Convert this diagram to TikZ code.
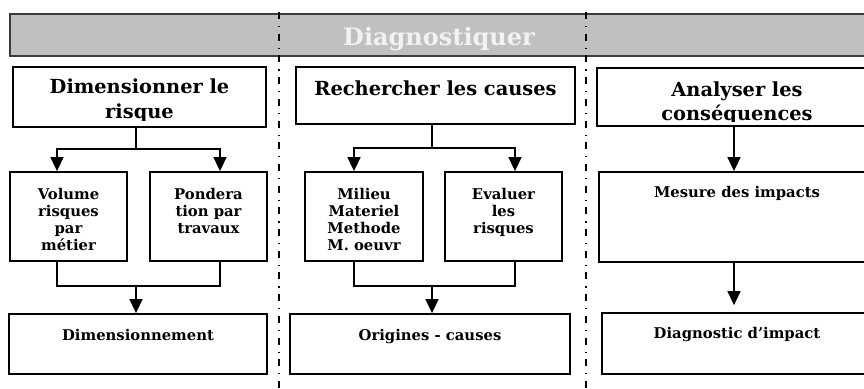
\documentclass[tikz,border=0pt]{standalone}
\usepackage{fontspec}
\setmainfont{DejaVu Serif}
\usetikzlibrary{arrows.meta}
\definecolor{bannerfill}{RGB}{192,192,192}
\definecolor{bannerline}{RGB}{60,60,60}
\definecolor{bannertext}{RGB}{242,242,242}
\begin{document}
\begin{tikzpicture}[x=1pt,y=-1pt,
  box/.style={draw=black,line width=1.8pt,fill=white,inner sep=0pt},
  conn/.style={line width=1.6pt},
  arr/.style={conn,-{Triangle[length=14pt,width=13pt]}},
  ttl/.style={font=\bfseries\fontsize{19.4}{24.5}\selectfont,align=center,inner sep=0pt,anchor=base},
  sml/.style={font=\bfseries\fontsize{14.8}{17.3}\selectfont,align=center,inner sep=0pt,anchor=base},
  sepline/.style={line width=1.3pt,dash pattern=on 7pt off 7pt on 1.2pt off 6.5pt}]
\useasboundingbox (0,0) rectangle (864,388);
\clip (0,0) rectangle (864,388);
\fill[white] (0,0) rectangle (864,388);
% banner
\node[draw=bannerline,line width=1.8pt,fill=bannerfill,minimum width=870,minimum height=42,inner sep=0pt] (banner) at (444.75,35) {};
\node[font=\bfseries\fontsize{24}{28}\selectfont,text=bannertext,inner sep=0pt,anchor=base] (bannertxt) at (439,45) {Diagnostiquer};
% separators
\coordinate (s1top) at (279,12);
\coordinate (s1bot) at (279,390);
\coordinate (s2top) at (586,12);
\coordinate (s2bot) at (586,390);
\draw[sepline] (s1top) -- (s1bot);
\draw[sepline] (s2top) -- (s2bot);
% top boxes
\node[box,minimum width=253,minimum height=60] (A) at (139.5,97) {};
\node[box,minimum width=279,minimum height=57] (B) at (435.5,95.5) {};
\node[box,minimum width=283,minimum height=58] (C) at (738.5,97) {};
\begin{scope}
\clip (13,67) rectangle (266,120.5);
\node[ttl] (Atxt) at (139.5,118) {Dimensionner le\\risque};
\end{scope}
\node[ttl] (Btxt) at (435.5,95) {Rechercher les causes};
\begin{scope}
\clip (597,68) rectangle (880,121.5);
\node[ttl] (Ctxt) at (737,120.5) {Analyser les\\conséquences};
\end{scope}
% second row
\node[box,minimum width=117,minimum height=89] (A1) at (68.5,216.5) {};
\node[box,minimum width=117,minimum height=89] (A2) at (208.5,216.5) {};
\node[box,minimum width=118,minimum height=89] (B1) at (364,216.5) {};
\node[box,minimum width=117,minimum height=89] (B2) at (503.5,216.5) {};
\node[box,minimum width=281,minimum height=90] (C2) at (739.5,217) {};
\node[sml] (A1txt) at (68.5,250.9) {Volume\\risques\\par\\métier};
\node[sml] (A2txt) at (208.5,233.6) {Pondera\\tion par\\travaux};
\node[sml] (B1txt) at (364,250.9) {Milieu\\Materiel\\Methode\\M. oeuvr};
\node[sml] (B2txt) at (503.5,233.6) {Evaluer\\les\\risques};
\node[sml] (C2txt) at (737,197) {Mesure des impacts};
% third row
\node[box,minimum width=258,minimum height=60] (A3) at (138,344) {};
\node[box,minimum width=280,minimum height=60] (B3) at (430,344) {};
\node[box,minimum width=278,minimum height=61] (C3) at (741,343.5) {};
\node[sml] (A3txt) at (138,340) {Dimensionnement};
\node[sml] (B3txt) at (430,340) {Origines - causes};
\node[sml] (C3txt) at (737,338) {Diagnostic d’impact};
% connectors column A
\coordinate (jA) at (136,149);
\coordinate (jA2) at (136,286);
\draw[conn] (A.south -| jA) -- (jA);
\draw[arr] (jA) -| ([xshift=-11.5pt]A1.north);
\draw[arr] (jA) -| ([xshift=11.5pt]A2.north);
\draw[conn] ([xshift=-11.5pt]A1.south) |- (jA2) -| ([xshift=11.5pt]A2.south);
\draw[arr] (jA2) -- (A3.north -| jA2);
% connectors column B
\coordinate (jB) at (432,148);
\coordinate (jB2) at (432,286);
\draw[conn] (B.south -| jB) -- (jB);
\draw[arr] (jB) -| ([xshift=-10pt]B1.north);
\draw[arr] (jB) -| ([xshift=11.5pt]B2.north);
\draw[conn] ([xshift=-10pt]B1.south) |- (jB2) -| ([xshift=11.5pt]B2.south);
\draw[arr] (jB2) -- (B3.north -| jB2);
% connectors column C
\coordinate (jC) at (734,0);
\draw[arr] (C.south -| jC) -- (C2.north -| jC);
\draw[arr,shorten >=7pt] (C2.south -| jC) -- (C3.north -| jC);
\end{tikzpicture}
\end{document}
